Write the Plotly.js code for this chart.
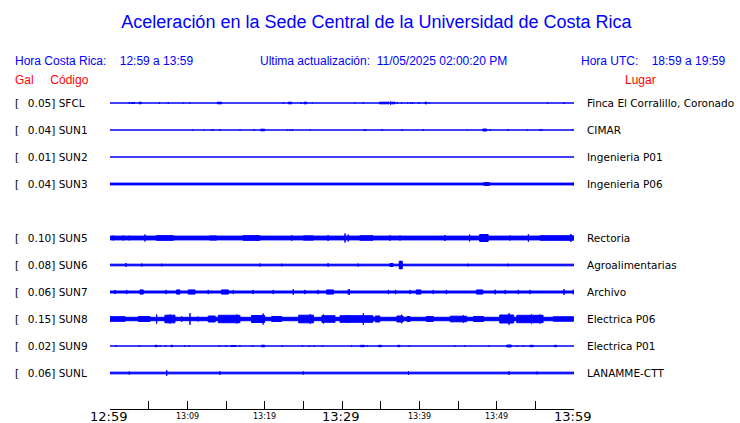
<!DOCTYPE html>
<html><head><meta charset="utf-8">
<script src="https://cdn.plot.ly/plotly-3.0.1.min.js"></script>
<style>body{margin:0;background:#fff}#chart{width:740px;height:423px}</style>
</head><body><div id="chart"></div>
<script>
// ---------------- DATA ----------------
const codes  = ['SFCL','SUN1','SUN2','SUN3','SUN4','SUN5','SUN6','SUN7','SUN8','SUN9','SUNL'];
const gals   = [0.05, 0.04, 0.01, 0.04, null, 0.10, 0.08, 0.06, 0.15, 0.02, 0.06];
const places = ['Finca El Corralillo, Coronado','CIMAR','Ingenieria P01','Ingenieria P06','',
                'Rectoria','Agroalimentarias','Archivo','Electrica P06','Electrica P01','LANAMME-CTT'];
// background noise half-amplitude of each trace (display units)
const baseNoise = [0.5, 0.5, 0.5, 1.4, null, 2.4, 1.3, 1.5, 2.2, 0.5, 1.35];
// bursts: [start minute, end minute, half-amplitude] (minutes after 12:59)
const ev_SFCL = [[2.5,2.5,1.4],[2.8,3.15,0.9],[3.79,4.05,1.3],[6.38,6.38,1.3],[7.54,7.54,1.3],[9.48,9.48,1.0],[10.34,10.34,1.0],[13.88,14.44,1.3],[22.41,22.41,1.3],[23.06,23.49,1.3],[24.7,24.7,1.3],[25.08,25.43,1.3],[26.16,26.16,1.0],[31.68,31.68,1.0],[32.76,32.76,1.3],[34.83,36.08,1.3],[36.29,36.29,2.3],[36.42,36.85,1.3],[37.15,37.15,1.3],[37.71,37.71,1.3],[38.49,38.49,1.0],[38.88,38.88,1.2],[39.14,39.14,1.2],[39.95,39.95,1.3],[40.73,40.95,1.3],[41.29,41.29,1.0],[56.59,56.59,1.3],[58.7,58.7,1.3]];
const ev_SUN1 = [[10.65,10.65,1.0],[12.2,12.2,1.0],[13.1,13.1,1.0],[13.36,13.36,1.3],[14.22,14.22,1.3],[16.81,16.81,1.0],[18.66,18.66,1.3],[19.48,20.0,1.3],[22.93,22.93,1.0],[23.27,23.27,1.2],[23.58,23.58,1.2],[25.9,25.9,1.0],[32.89,32.89,1.2],[33.1,33.1,1.2],[35.21,35.21,1.3],[37.8,37.8,1.3],[40.52,40.52,1.3],[46.2,46.2,0.9],[48.19,48.7,1.5],[49.18,49.18,1.3],[51.5,51.5,1.3],[53.96,53.96,1.0],[55.6,55.6,1.3],[55.9,55.9,1.3],[59.78,59.78,1.0]];
const ev_SUN2 = [];
const ev_SUN3 = [[48.3,49.1,1.8],[48.7,48.7,2.5],[59.9,59.9,1.8]];
const ev_SUN4 = [];
const ev_SUN5 = [[0.43,0.43,3.0],[1.72,1.72,3.0],[2.5,2.5,2.8],[4.53,4.53,4.0],[6.0,8.2,2.8],[11.2,11.2,2.5],[12.9,13.8,2.5],[17.2,19.4,2.8],[18.96,18.96,3.5],[23.5,23.5,3.3],[25.0,26.3,2.6],[28.2,28.2,3.5],[30.39,30.39,5.0],[30.8,30.8,4.0],[32.3,34.0,2.7],[33.8,33.8,3.0],[36.2,36.2,3.3],[37.5,37.5,3.0],[43.3,43.3,3.5],[46.5,46.5,4.0],[47.8,48.9,4.0],[51.7,51.7,3.0],[54.1,54.1,4.2],[55.6,59.9,2.7],[59.6,59.6,4.5]];
const ev_SUN6 = [[2.07,2.07,2.5],[4.1,4.1,2.0],[6.68,6.68,1.8],[19.4,19.4,2.0],[22.2,22.2,1.8],[28.2,28.2,2.3],[32.1,32.1,2.0],[36.2,36.6,2.0],[37.4,37.8,4.3],[37.6,37.6,4.5],[46.3,46.3,1.8],[51.5,51.5,1.8]];
const ev_SUN7 = [[0.65,0.65,2.6],[2.16,2.16,2.6],[3.88,4.31,2.6],[7.24,7.24,2.6],[8.6,9.05,2.6],[10.1,11.0,2.6],[12.7,12.7,2.6],[14.4,15.3,2.6],[15.95,15.95,2.6],[18.5,18.5,2.6],[21.1,21.1,2.6],[23.7,23.7,3.3],[25.2,25.2,2.6],[26.9,26.9,2.6],[28.0,28.9,2.6],[30.8,30.8,3.0],[30.95,30.95,3.3],[36.0,36.0,2.6],[36.94,36.94,2.6],[38.8,38.8,2.6],[39.6,40.2,2.6],[41.8,41.8,2.6],[43.5,43.5,2.6],[47.4,48.2,2.6],[49.8,49.8,2.8],[51.1,51.1,2.6],[52.8,52.8,2.6],[54.3,54.3,2.6],[58.7,58.7,3.5],[59.9,59.9,2.8]];
const ev_SUN8 = [[0.0,1.94,2.8],[3.66,5.17,3.0],[6.03,6.03,5.0],[7.1,8.4,4.3],[7.76,7.76,5.0],[9.27,9.27,3.3],[10.34,10.34,6.3],[11.4,11.4,3.0],[12.7,13.6,3.5],[14.0,16.8,4.2],[16.4,16.4,5.0],[18.3,20.0,4.0],[19.8,19.8,6.0],[20.9,22.2,3.0],[24.4,26.3,4.3],[25.9,25.9,5.3],[27.4,29.1,3.8],[27.6,27.6,5.0],[30.4,31.0,3.5],[29.74,34.0,3.8],[32.76,32.76,6.3],[34.3,34.9,3.5],[37.1,37.9,3.5],[37.7,37.7,4.8],[38.4,38.8,3.0],[40.9,41.8,3.0],[44.0,46.1,3.3],[45.7,45.7,4.3],[47.0,48.3,3.0],[50.4,52.2,4.5],[51.6,51.6,6.3],[52.6,56.0,4.2],[54.5,54.5,5.2],[55.6,55.6,5.0],[57.3,59.9,2.7]];
const ev_SUN9 = [[0.78,0.78,1.2],[3.79,3.79,1.2],[5.82,6.12,1.2],[6.47,6.47,1.2],[7.2,7.2,1.2],[7.89,8.1,1.2],[9.7,9.7,1.2],[10.26,10.26,1.2],[14.14,14.14,1.2],[15.0,15.0,1.2],[15.65,16.3,1.0],[16.8,16.8,1.2],[18.45,18.45,1.2],[19.6,20.0,1.3],[22.28,22.28,1.2],[24.9,24.9,1.2],[25.77,25.77,1.2],[26.42,26.42,1.2],[27.5,27.5,1.2],[31.25,31.25,1.2],[32.4,32.89,1.2],[33.27,33.27,1.2],[34.7,35.1,1.2],[37.2,37.5,1.2],[38.7,38.7,1.2],[44.6,44.6,1.2],[45.9,45.9,1.2],[49.0,49.0,1.0],[51.3,51.9,1.5],[52.67,52.67,1.2],[53.45,53.45,1.2],[54.3,54.74,1.2],[57.45,57.76,1.2]];
const ev_SUNL = [[2.5,2.5,2.0],[7.33,7.33,3.3],[14.2,14.2,2.3],[25.0,25.0,2.0],[38.6,38.6,2.5],[51.6,51.6,2.3],[55.2,55.2,1.8]];
const events = [ev_SFCL, ev_SUN1, ev_SUN2, ev_SUN3, ev_SUN4, ev_SUN5, ev_SUN6, ev_SUN7, ev_SUN8, ev_SUN9, ev_SUNL];

const tickMinutes = [0,5,10,15,20,25,30,35,40,45,50,55,60];
const timeLabels  = ['12:59','13:09','13:19','13:29','13:39','13:49','13:59'];
const labelMinutes= [0,10,20,30,40,50,60];
const majorLabel  = [true,false,false,true,false,false,true];

const titleText  = 'Aceleración en la Sede Central de la Universidad de Costa Rica';
const headerCR   = 'Hora Costa Rica:\u00a0\u00a0\u00a0 12:59 a 13:59';
const headerUpd  = 'Ultima actualización:\u00a0 11/05/2025 02:00:20 PM';
const headerUTC  = 'Hora UTC:\u00a0\u00a0\u00a0 18:59 a 19:59';

// ---------------- LAYOUT HELPERS ----------------
const ROW = 27;            // display units between traces
const BLUE = '#0000ff';
const L = 110, R = 574, T = 76, B = 409, W = 740, H = 423;
const yTop = ROW, yBot = ROW - (B - T);
const px = p => (p - L) / (R - L);     // pixel -> paper x
const py = p => (B - p) / (B - T);     // pixel -> paper y
const STROKE = 1;                       // outline width of each burst polygon
const half = a => Math.max(a - STROKE / 2, 0);

const traces = [];
const annotations = [];
const lblFont = {family:'DejaVu Sans', size:10.5, color:'#000'};
codes.forEach((c, i) => {
  const yc = -ROW * i;
  if (gals[i] === null) return;
  const xs = [], ys = [];
  const box = (t0, t1, a) => {
    const h = half(a);
    xs.push(t0, t1, t1, t0, t0, null);
    ys.push(yc - h, yc - h, yc + h, yc + h, yc - h, null);
  };
  box(0, 60, baseNoise[i]);
  events[i].forEach(e => box(e[0], e[1], e[2]));
  traces.push({type:'scatter', mode:'lines', name:c, x:xs, y:ys, fill:'toself',
    fillcolor:BLUE, line:{color:BLUE, width:STROKE}, connectgaps:false,
    hoverinfo:'skip', showlegend:false});
  annotations.push({xref:'paper', yref:'y', x:px(13), y:yc, xanchor:'left', yanchor:'middle',
    text:'[\u00a0\u00a0\u2009' + gals[i].toFixed(2) + '] ' + c, showarrow:false, font:lblFont});
  annotations.push({xref:'paper', yref:'y', x:px(585), y:yc, xanchor:'left', yanchor:'middle',
    text:places[i], showarrow:false, font:lblFont});
});

labelMinutes.forEach((m, k) => {
  annotations.push({xref:'x', yref:'paper', x:m, y:py(416), xanchor:'center', yanchor:'middle',
    xshift: majorLabel[k] ? -2 : 0,
    text:timeLabels[k], showarrow:false,
    font:{family:'DejaVu Sans', size: majorLabel[k] ? 13 : 8, color:'#000'}});
});

const hdrFont = {family:'Liberation Sans', size:12, color:BLUE};
annotations.push({xref:'paper', yref:'paper', x:px(13), y:py(61), xanchor:'left', yanchor:'middle', text:headerCR, showarrow:false, font:hdrFont});
annotations.push({xref:'paper', yref:'paper', x:px(258), y:py(61), xanchor:'left', yanchor:'middle', text:headerUpd, showarrow:false, font:hdrFont});
annotations.push({xref:'paper', yref:'paper', x:px(727), y:py(61), xanchor:'right', yanchor:'middle', text:headerUTC, showarrow:false, font:hdrFont});
const redFont = {family:'Liberation Sans', size:12, color:'#ff0000'};
annotations.push({xref:'paper', yref:'paper', x:px(13), y:py(80), xanchor:'left', yanchor:'middle', text:'Gal\u00a0\u00a0\u00a0\u00a0 Código', showarrow:false, font:redFont});
annotations.push({xref:'paper', yref:'paper', x:px(623), y:py(80), xanchor:'left', yanchor:'middle', text:'Lugar', showarrow:false, font:redFont});

const layout = {
  width:W, height:H, paper_bgcolor:'#fff', plot_bgcolor:'#fff',
  margin:{l:L, r:W - R, t:T, b:H - B, pad:0},
  title:{text:titleText, x:(118 + 635) / 2 / W, xanchor:'center', y:1 - 22 / H, yanchor:'middle',
         font:{family:'Liberation Sans', size:18, color:BLUE}},
  xaxis:{range:[0,60], tickvals:tickMinutes, showticklabels:false, ticks:'inside', ticklen:8,
         tickcolor:'#000', tickwidth:1, showline:true, linecolor:'#000', linewidth:1,
         showgrid:false, zeroline:false, fixedrange:true},
  yaxis:{range:[yBot, yTop], visible:false, fixedrange:true},
  annotations:annotations,
  showlegend:false
};
Plotly.newPlot('chart', traces, layout, {staticPlot:true, displayModeBar:false});
</script></body></html>
